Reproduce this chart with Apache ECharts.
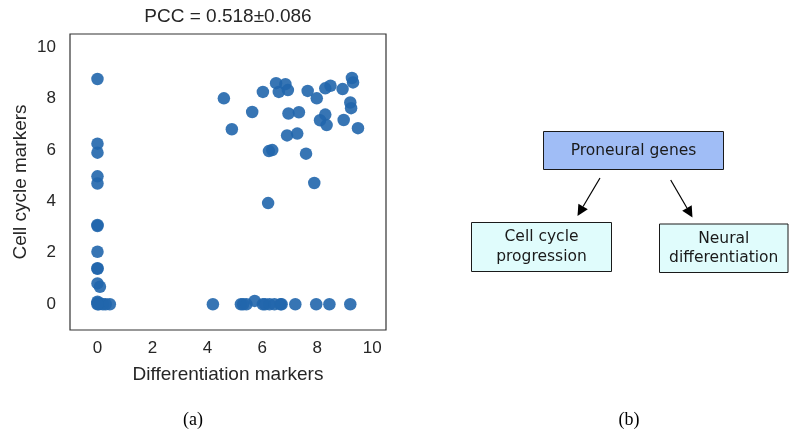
<!DOCTYPE html>
<html>
<head>
<meta charset="utf-8">
<script src="https://cdn.jsdelivr.net/npm/echarts@6/dist/echarts.min.js"></script>
<style>
  html, body { margin: 0; padding: 0; background: #fff; }
  #chart { width: 789px; height: 435px; }
</style>
</head>
<body>
<div id="chart"></div>
<script>
// Expression scores per cell: differentiation markers (x) vs cell cycle markers (y)
const differentiationMarkers = [
  0, 0, 0, 0, 0, 0, 0, 0, 0, 0, 0, 0.09, 0, 0, 0.05, 0.1, 0.2, 0.3, 0.45, 0,
  4.2, 5.22, 5.3, 5.42, 5.72, 6.02, 6.1, 6.26, 6.44, 6.66, 6.7, 7.2, 7.96, 8.44, 9.2,
  4.6, 4.89, 5.63, 6.02, 6.24, 6.36, 6.5, 6.6, 6.84, 6.93, 6.95, 6.9, 7.27, 7.33, 7.59,
  7.65, 7.89, 7.98, 8.1, 8.29, 8.34, 8.29, 8.48, 8.92, 8.96, 9.2, 9.23, 9.26, 9.3, 9.48, 6.21
];
const cellCycleMarkers = [
  8.75, 6.24, 5.89, 4.97, 4.69, 3.08, 3.04, 2.04, 1.40, 1.38, 0.81, 0.68, 0.05, 0.1, 0, 0.02, 0, 0, 0, 0,
  0, 0, 0, 0, 0.13, 0, 0, 0, 0, 0, 0, 0, 0, 0, 0,
  8.0, 6.8, 7.47, 8.25, 5.95, 5.99, 8.59, 8.25, 8.55, 8.32, 7.41, 6.56, 6.63, 7.46, 5.85,
  8.29, 4.71, 8.0, 7.15, 7.37, 6.96, 8.39, 8.49, 8.36, 7.16, 7.84, 7.62, 8.79, 8.62, 6.84, 3.93
];
const xTickValues = [0, 2, 4, 6, 8, 10];
const yTickValues = [0, 2, 4, 6, 8, 10];

const plotTitle = 'PCC = 0.518\u00b10.086';
const xAxisName = 'Differentiation markers';
const yAxisName = 'Cell cycle markers';
const panelLabels = ['(a)', '(b)'];
const rootGene = 'Proneural genes';
const childProcesses = ['Cell cycle\nprogression', 'Neural\ndifferentiation'];

const points = differentiationMarkers.map((x, i) => [x, cellCycleMarkers[i]]);

const sans = 'Liberation Sans, Arial, sans-serif';
const diagramFont = 'DejaVu Sans, sans-serif';
const serif = 'Liberation Serif, DejaVu Serif, serif';

// Filled arrow from (x1,y1) to tip (x2,y2)
function arrow(x1, y1, x2, y2) {
  const dx = x2 - x1, dy = y2 - y1;
  const len = Math.hypot(dx, dy);
  const ux = dx / len, uy = dy / len;
  const headLen = 11, headHalf = 5.5;
  const bx = x2 - ux * headLen, by = y2 - uy * headLen;
  return [
    { type: 'line', shape: { x1, y1, x2: bx, y2: by }, style: { stroke: '#000', lineWidth: 1.2 } },
    { type: 'polygon', shape: { points: [[x2, y2], [bx - uy * headHalf, by + ux * headHalf], [bx + uy * headHalf, by - ux * headHalf]] }, style: { fill: '#000' } }
  ];
}

function box(x, y, w, h, fill, label, fontSize) {
  return [
    { type: 'rect', shape: { x, y, width: w, height: h }, style: { fill, stroke: '#1a1a1a', lineWidth: 1 } },
    { type: 'text', x: x + w / 2, y: y + h / 2, style: { text: label, fill: '#1a1a1a', font: fontSize + 'px ' + diagramFont, align: 'center', verticalAlign: 'middle', lineHeight: 19.5 } }
  ];
}

const chart = echarts.init(document.getElementById('chart'), null, { renderer: 'canvas' });

chart.setOption({
  animation: false,
  backgroundColor: '#fff',
  grid: {
    left: 70, top: 34, width: 316, height: 296,
    show: true, borderColor: '#333', borderWidth: 1.2, backgroundColor: 'transparent'
  },
  xAxis: {
    type: 'value', min: -1, max: 10.5,
    axisLine: { show: false }, axisTick: { show: false }, splitLine: { show: false },
    axisLabel: { customValues: xTickValues, fontSize: 17, color: '#262626', fontFamily: sans, margin: 10 },
    name: xAxisName, nameLocation: 'middle', nameGap: 35,
    nameTextStyle: { fontSize: 19, color: '#262626', fontFamily: sans }
  },
  yAxis: {
    type: 'value', min: -1, max: 10.5,
    axisLine: { show: false }, axisTick: { show: false }, splitLine: { show: false },
    axisLabel: { customValues: yTickValues, fontSize: 17, color: '#262626', fontFamily: sans, margin: 14 },
    name: yAxisName, nameLocation: 'middle', nameGap: 40,
    nameTextStyle: { fontSize: 19, color: '#262626', fontFamily: sans }
  },
  series: [{
    type: 'scatter',
    data: points,
    symbol: 'circle',
    symbolSize: 12.5,
    itemStyle: { color: '#2166ac', opacity: 0.9 }
  }],
  graphic: [
    { type: 'text', x: 228, y: 17, style: { text: plotTitle, font: '19px ' + sans, fill: '#262626', align: 'center', verticalAlign: 'middle' } },
    { type: 'text', x: 193, y: 420, style: { text: panelLabels[0], font: '18px ' + serif, fill: '#000', align: 'center', verticalAlign: 'middle' } },
    { type: 'text', x: 629, y: 420, style: { text: panelLabels[1], font: '18px ' + serif, fill: '#000', align: 'center', verticalAlign: 'middle' } },
    ...box(543.5, 131.5, 180, 38, '#a0bdf6', rootGene, 15.5),
    ...box(471.5, 222.5, 140, 49, '#e0fcfc', childProcesses[0], 15.5),
    ...box(659.5, 224, 128.5, 48.5, '#e0fcfc', childProcesses[1], 15.5),
    ...arrow(600, 178, 577.5, 216),
    ...arrow(670.7, 180, 692.5, 217.5)
  ]
});
</script>
</body>
</html>
